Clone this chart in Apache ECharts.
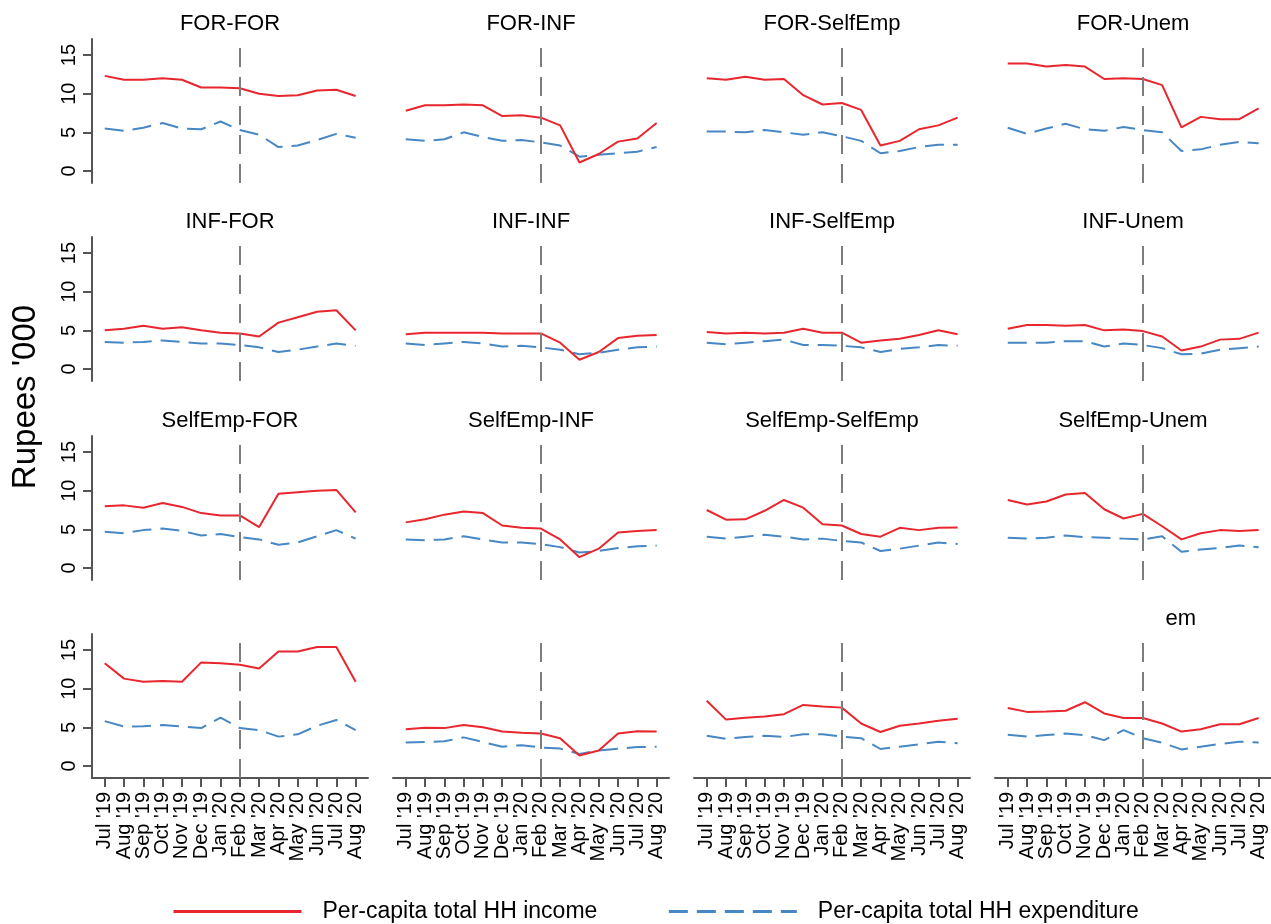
<!DOCTYPE html>
<html>
<head>
<meta charset="utf-8">
<script src="https://cdn.jsdelivr.net/npm/echarts@6/dist/echarts.min.js"></script>
<style>
  html, body { margin: 0; padding: 0; background: #fff; }
  #chart { width: 1271px; height: 924px; }
</style>
</head>
<body>
<div id="chart"></div>
<script>
// Month labels on the shared time axis
const months = ["Jul '19", "Aug '19", "Sep '19", "Oct '19", "Nov '19", "Dec '19", "Jan '20",
                "Feb '20", "Mar '20", "Apr '20", "May '20", "Jun '20", "Jul '20", "Aug '20"];
const breakMonth = "Feb '20";
const yTicks = [0, 5, 10, 15];

// Panel captions, row by row
const panelTitles = [
  'FOR-FOR', 'FOR-INF', 'FOR-SelfEmp', 'FOR-Unem',
  'INF-FOR', 'INF-INF', 'INF-SelfEmp', 'INF-Unem',
  'SelfEmp-FOR', 'SelfEmp-INF', 'SelfEmp-SelfEmp', 'SelfEmp-Unem',
  '', '', '', 'em'
];

// Per-capita total HH income (Rupees '000)
const inc_FOR_FOR         = [12.3, 11.8, 11.8, 12.0, 11.8, 10.8, 10.8, 10.7, 10.0, 9.7, 9.8, 10.4, 10.5, 9.7];
const inc_FOR_INF         = [7.8, 8.5, 8.5, 8.6, 8.5, 7.1, 7.2, 6.9, 5.9, 1.1, 2.2, 3.8, 4.2, 6.2];
const inc_FOR_SelfEmp     = [12.0, 11.8, 12.2, 11.8, 11.9, 9.8, 8.6, 8.8, 7.9, 3.3, 3.9, 5.4, 5.9, 6.9];
const inc_FOR_Unem        = [13.9, 13.9, 13.5, 13.7, 13.5, 11.9, 12.0, 11.9, 11.1, 5.65, 7.0, 6.7, 6.7, 8.1];
const inc_INF_FOR         = [5.0, 5.2, 5.6, 5.2, 5.4, 5.0, 4.7, 4.6, 4.2, 6.0, 6.7, 7.4, 7.6, 5.0];
const inc_INF_INF         = [4.5, 4.7, 4.7, 4.7, 4.7, 4.6, 4.6, 4.6, 3.4, 1.2, 2.2, 4.0, 4.3, 4.4];
const inc_INF_SelfEmp     = [4.8, 4.6, 4.7, 4.6, 4.7, 5.2, 4.7, 4.7, 3.4, 3.7, 3.9, 4.4, 5.0, 4.5];
const inc_INF_Unem        = [5.2, 5.7, 5.7, 5.6, 5.7, 5.0, 5.1, 4.9, 4.2, 2.4, 2.9, 3.8, 3.9, 4.7];
const inc_SelfEmp_FOR     = [8.0, 8.1, 7.8, 8.4, 7.9, 7.1, 6.8, 6.8, 5.3, 9.6, 9.8, 10.0, 10.1, 7.2];
const inc_SelfEmp_INF     = [5.9, 6.3, 6.9, 7.3, 7.1, 5.5, 5.2, 5.1, 3.7, 1.4, 2.5, 4.6, 4.8, 4.9];
const inc_SelfEmp_SelfEmp = [7.5, 6.25, 6.3, 7.4, 8.8, 7.8, 5.65, 5.5, 4.4, 4.05, 5.2, 4.9, 5.2, 5.25];
const inc_SelfEmp_Unem    = [8.8, 8.2, 8.6, 9.5, 9.7, 7.6, 6.4, 7.0, 5.4, 3.7, 4.5, 4.9, 4.8, 4.9];
const inc_Unem_FOR        = [13.3, 11.3, 10.9, 11.0, 10.9, 13.4, 13.3, 13.1, 12.6, 14.8, 14.8, 15.4, 15.4, 10.9];
const inc_Unem_INF        = [4.75, 4.95, 4.9, 5.3, 5.0, 4.45, 4.3, 4.2, 3.6, 1.35, 2.0, 4.2, 4.5, 4.45];
const inc_Unem_SelfEmp    = [8.45, 6.0, 6.25, 6.4, 6.7, 7.9, 7.7, 7.55, 5.5, 4.4, 5.2, 5.5, 5.85, 6.1];
const inc_Unem_Unem       = [7.5, 7.0, 7.05, 7.15, 8.25, 6.8, 6.2, 6.2, 5.5, 4.45, 4.75, 5.4, 5.4, 6.2];

// Per-capita total HH expenditure (Rupees '000)
const exp_FOR_FOR         = [5.5, 5.2, 5.6, 6.2, 5.5, 5.4, 6.4, 5.3, 4.7, 3.1, 3.3, 4.0, 4.8, 4.3];
const exp_FOR_INF         = [4.1, 3.9, 4.1, 5.0, 4.4, 3.9, 4.0, 3.7, 3.3, 1.85, 2.1, 2.3, 2.5, 3.1];
const exp_FOR_SelfEmp     = [5.1, 5.1, 5.0, 5.3, 5.0, 4.7, 5.0, 4.5, 3.9, 2.3, 2.6, 3.1, 3.4, 3.4];
const exp_FOR_Unem        = [5.6, 4.8, 5.5, 6.1, 5.4, 5.2, 5.7, 5.3, 5.0, 2.6, 2.8, 3.4, 3.75, 3.6];
const exp_INF_FOR         = [3.5, 3.4, 3.5, 3.7, 3.5, 3.3, 3.3, 3.1, 2.8, 2.2, 2.5, 2.9, 3.3, 3.0];
const exp_INF_INF         = [3.3, 3.1, 3.3, 3.5, 3.3, 2.9, 3.0, 2.8, 2.5, 1.9, 2.1, 2.5, 2.8, 2.9];
const exp_INF_SelfEmp     = [3.4, 3.2, 3.4, 3.6, 3.8, 3.1, 3.1, 3.0, 2.8, 2.2, 2.6, 2.8, 3.1, 3.0];
const exp_INF_Unem        = [3.4, 3.4, 3.4, 3.6, 3.6, 2.9, 3.3, 3.1, 2.7, 1.9, 2.0, 2.5, 2.7, 2.9];
const exp_SelfEmp_FOR     = [4.7, 4.5, 4.9, 5.1, 4.8, 4.2, 4.4, 4.0, 3.7, 3.0, 3.3, 4.1, 4.9, 3.8];
const exp_SelfEmp_INF     = [3.7, 3.6, 3.7, 4.1, 3.7, 3.3, 3.3, 3.1, 2.7, 2.0, 2.2, 2.6, 2.8, 2.9];
const exp_SelfEmp_SelfEmp = [4.05, 3.8, 4.05, 4.3, 4.05, 3.7, 3.8, 3.5, 3.3, 2.2, 2.5, 2.9, 3.3, 3.1];
const exp_SelfEmp_Unem    = [3.9, 3.8, 3.9, 4.2, 4.0, 3.9, 3.8, 3.7, 4.1, 2.1, 2.4, 2.6, 2.9, 2.7];
const exp_Unem_FOR        = [5.8, 5.1, 5.15, 5.3, 5.1, 4.9, 6.25, 4.9, 4.65, 3.8, 4.1, 5.2, 5.95, 4.65];
const exp_Unem_INF        = [3.05, 3.1, 3.2, 3.7, 3.1, 2.5, 2.7, 2.4, 2.25, 1.55, 2.0, 2.25, 2.45, 2.5];
const exp_Unem_SelfEmp    = [3.9, 3.5, 3.75, 3.9, 3.75, 4.1, 4.1, 3.8, 3.6, 2.2, 2.5, 2.8, 3.15, 2.95];
const exp_Unem_Unem       = [4.05, 3.8, 4.0, 4.2, 4.0, 3.35, 4.65, 3.6, 3.0, 2.15, 2.5, 2.85, 3.15, 3.05];

const incomeSets = [
  inc_FOR_FOR, inc_FOR_INF, inc_FOR_SelfEmp, inc_FOR_Unem,
  inc_INF_FOR, inc_INF_INF, inc_INF_SelfEmp, inc_INF_Unem,
  inc_SelfEmp_FOR, inc_SelfEmp_INF, inc_SelfEmp_SelfEmp, inc_SelfEmp_Unem,
  inc_Unem_FOR, inc_Unem_INF, inc_Unem_SelfEmp, inc_Unem_Unem
];
const expenditureSets = [
  exp_FOR_FOR, exp_FOR_INF, exp_FOR_SelfEmp, exp_FOR_Unem,
  exp_INF_FOR, exp_INF_INF, exp_INF_SelfEmp, exp_INF_Unem,
  exp_SelfEmp_FOR, exp_SelfEmp_INF, exp_SelfEmp_SelfEmp, exp_SelfEmp_Unem,
  exp_Unem_FOR, exp_Unem_INF, exp_Unem_SelfEmp, exp_Unem_Unem
];

const INCOME = 'Per-capita total HH income';
const EXPEND = 'Per-capita total HH expenditure';

// ---- layout ----
const FONT = '"Liberation Sans", Arial, Helvetica, sans-serif';
const RED = '#e8262e';
const BLUE = '#4687c4';
const AXIS = '#555555';
const colLeft = [92, 393, 694, 995];
const rowTop = [39, 237, 436, 634];
const panelW = 276, panelH = 144;
const yMin = -1.55, yMax = 17.07;
const xMin = -0.66, xMax = 13.64;
const breakIdx = months.indexOf(breakMonth);
const monthIdx = months.map((_, i) => i);
// Month labels are split over two stacked axes (even / odd months) so the
// tightly packed vertical labels are all kept.
const evenIdx = monthIdx.filter(i => i % 2 === 0);
const oddIdx = monthIdx.filter(i => i % 2 === 1);

const grids = [], xAxes = [], yAxes = [], series = [], graphics = [];

function monthLabel(values) {
  return {
    show: true, rotate: 90, margin: 14, customValues: values,
    showMinLabel: true, showMaxLabel: true, hideOverlap: false,
    fontFamily: FONT, fontSize: 20, color: '#000',
    formatter: v => months[Math.round(v)]
  };
}

for (let p = 0; p < 16; p++) {
  const r = Math.floor(p / 4), c = p % 4;
  const firstCol = c === 0, lastRow = r === 3;
  grids.push({ left: colLeft[c], top: rowTop[r], width: panelW, height: panelH, containLabel: false });

  xAxes.push({
    gridIndex: p, type: 'value', min: xMin, max: xMax,
    show: lastRow,
    splitLine: { show: false },
    axisLine: { show: true, onZero: false, lineStyle: { color: AXIS, width: 2 } },
    axisTick: { show: true, length: 9, customValues: monthIdx, lineStyle: { color: AXIS, width: 2 } },
    axisLabel: monthLabel(evenIdx)
  });

  yAxes.push({
    gridIndex: p, type: 'value', min: yMin, max: yMax,
    show: firstCol,
    splitLine: { show: false },
    axisLine: { show: true, onZero: false, lineStyle: { color: AXIS, width: 2 } },
    axisTick: { show: true, length: 9, customValues: yTicks, lineStyle: { color: AXIS, width: 2 } },
    axisLabel: {
      show: true, rotate: 90, margin: 13, customValues: yTicks,
      showMinLabel: true, showMaxLabel: true, hideOverlap: false,
      fontFamily: FONT, fontSize: 20, color: '#000'
    }
  });

  series.push({
    name: EXPEND, type: 'line', xAxisIndex: p, yAxisIndex: p,
    symbol: 'none', silent: true, animation: false,
    data: expenditureSets[p].map((v, i) => [i, v]),
    lineStyle: { color: BLUE, width: 2, type: [19, 9] },
    itemStyle: { color: BLUE }
  });
  series.push({
    name: INCOME, type: 'line', xAxisIndex: p, yAxisIndex: p,
    symbol: 'none', silent: true, animation: false,
    data: incomeSets[p].map((v, i) => [i, v]),
    lineStyle: { color: RED, width: 2 },
    itemStyle: { color: RED },
    markLine: {
      silent: true, symbol: 'none', animation: false,
      label: { show: false },
      lineStyle: { color: '#7d7d7d', width: 2, type: [19, 10] },
      data: [[{ coord: [breakIdx, yMin] }, { coord: [breakIdx, 15.9] }]]
    }
  });

  const title = panelTitles[p];
  if (title) {
    const cx = colLeft[c] + panelW / 2;
    const isTail = lastRow;
    graphics.push({
      type: 'text',
      x: isTail ? cx + 63 : cx,
      y: rowTop[r] - 15.5,
      style: {
        text: title, fill: '#000', font: '22px ' + FONT,
        textAlign: isTail ? 'right' : 'center', textVerticalAlign: 'middle'
      }
    });
  }
}

// odd-month label axes for the bottom row
for (let c = 0; c < 4; c++) {
  xAxes.push({
    gridIndex: 12 + c, type: 'value', min: xMin, max: xMax, position: 'bottom',
    splitLine: { show: false },
    axisLine: { show: false, onZero: false },
    axisTick: { show: false },
    axisLabel: monthLabel(oddIdx)
  });
}

// y-axis caption
graphics.push({
  type: 'text', x: 26, y: 397, rotation: Math.PI / 2,
  style: { text: "Rupees '000", fill: '#000', font: '33px ' + FONT, textAlign: 'center', textVerticalAlign: 'middle' }
});

const chart = echarts.init(document.getElementById('chart'), null, { renderer: 'canvas' });
chart.setOption({
  backgroundColor: '#fff',
  animation: false,
  grid: grids,
  xAxis: xAxes,
  yAxis: yAxes,
  series: series,
  graphic: graphics,
  legend: {
    data: [INCOME, EXPEND],
    left: 172, top: 900, padding: 0,
    itemWidth: 128, itemHeight: 26, itemGap: 70,
    selectedMode: false,
    lineStyle: { width: 3 },
    itemStyle: { color: 'rgba(0,0,0,0)', borderWidth: 0, opacity: 0 },
    textStyle: { fontFamily: FONT, fontSize: 23, color: '#000', padding: [0, 0, 0, 16] }
  }
});
</script>
</body>
</html>
